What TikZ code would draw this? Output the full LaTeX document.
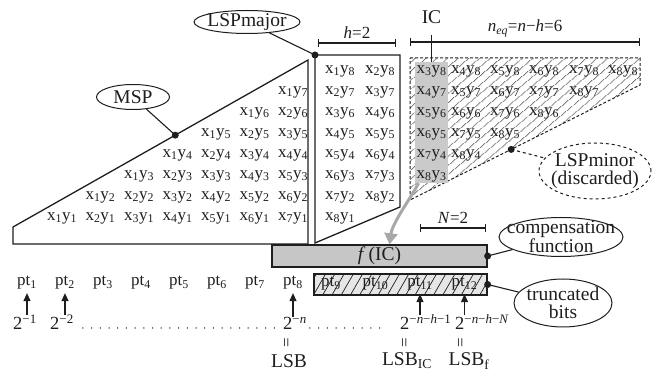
\documentclass[tikz,border=0pt]{standalone}
\usepackage{fontspec}
\setmainfont{Liberation Serif}
\usepackage{tikz}
\usetikzlibrary{arrows.meta, positioning, calc, shapes.geometric, patterns.meta}
\definecolor{Ink}{HTML}{1E1E1E}
\definecolor{ICGray}{HTML}{CACACA}
\definecolor{FGray}{HTML}{C6C6C6}
\definecolor{TGray}{HTML}{E6E6E6}
\definecolor{FlowGray}{HTML}{A8A8A8}
\newcommand{\lblfont}{\fontsize{19.5}{17}\selectfont}
\newcommand{\gridfont}{\fontsize{17}{19}\selectfont}
\newcommand{\powfont}{\fontsize{18.5}{20}\selectfont}
\newcommand{\xy}[2]{x\textsubscript{#1}y\textsubscript{#2}}
\def\colxs{{62,100.5,139,177.5,216,254.5,293,340,380,431.5,466,505,544,584,623}}
\tikzset{
  note/.style={ellipse, draw=Ink, line width=1pt, inner sep=-20pt, font=\lblfont, align=center},
  part/.style={draw=Ink, line width=1.3pt, line join=miter},
  link/.style={draw=Ink, line width=1.1pt},
  dimline/.style={{Bar[width=8pt]}-{Bar[width=8pt]}, line width=1.1pt, Ink},
  uparrow/.style={-{Triangle[width=7pt,length=8pt]}, line width=1.1pt, Ink},
  dotline/.style={line width=1.5pt, line cap=round, dash pattern=on 0pt off 8.7pt, Ink},
  power/.style={anchor=base west, inner sep=0pt, font=\powfont},
  flow/.style={-{Triangle[width=13pt,length=11pt]}, line width=3pt, FlowGray},
  equals/.style={rotate=90, inner sep=0pt, font=\fontsize{17}{17}\selectfont},
}

\begin{document}
\begin{tikzpicture}[x=1pt, y=-1pt, font=\gridfont, text=Ink]
  \useasboundingbox (0,0) rectangle (654,374);
  % the three parts of the partial product matrix
  \coordinate (msp-tl) at (13,227);
  \coordinate (msp-tr) at (308,60);
  \coordinate (maj-tl) at (315,55);
  \coordinate (min-bl) at (410,200);
  \coordinate (min-tr) at (640,85);
  \draw[part] (13,244) -- (msp-tl) -- (msp-tr) -- (308,244) -- cycle;
  \draw[part] (maj-tl) -- (400,55) -- (400,207) -- (315,243) -- cycle;
  \draw[part, line width=1pt, densely dashed] (410,58) -- (640,58) -- (min-tr) -- (min-bl) -- cycle;
  \node[fill=ICGray, minimum width=33, minimum height=121, inner sep=0pt] (icbox) at (431.5,122.5) {};

  \foreach \k in {1,...,8} {
    \foreach \i in {1,...,8} {
      \pgfmathtruncatemacro{\col}{\i+\k-1}
      \pgfmathsetmacro{\cx}{\colxs[\col-1]}
      \node (xy-\i-\k) at (\cx, 239-21*\k) {\xy{\i}{\k}};
    }
  }
  \fill[pattern={Lines[angle=40, distance=6.5pt, line width=0.7pt]}, pattern color=Ink, even odd rule]
    (410,58) -- (640,58) -- (min-tr) -- (min-bl) -- cycle
    (icbox.south west) rectangle (icbox.north east);

  % labels on top
  \node[font=\lblfont] (ic) at (431.5,17) {IC};
  \draw[link, shorten <=8pt] (ic.south) -- (icbox.north);
  \coordinate (h-l) at (318,43);
  \coordinate (h-r) at (396,43);
  \draw[dimline] (h-l) -- (h-r) node[midway, above=1pt] {\textit{h}=2};
  \coordinate (neq-l) at (410,42);
  \coordinate (neq-r) at (640,42);
  \draw[dimline] (neq-l) -- (neq-r)
    node[midway, above=1pt] {\textit{n}\textsubscript{\textit{eq}}=\textit{n}−\textit{h}=6};

  % callouts
  \coordinate (msp-dot) at ($(msp-tl)!0.55!(msp-tr)$);
  \coordinate (min-dot) at ($(min-bl)!0.44!(min-tr)$);
  \node[note, minimum width=73, minimum height=25] (msp) at (133,97) {MSP};
  \node[note, minimum width=106, minimum height=23] (lspmajor) at (247,22) {LSPmajor};
  \node[note, dashed, minimum width=112, minimum height=56, font=\fontsize{19.5}{18}\selectfont]
    (lspminor) at (595,171) {LSPminor\\(discarded)};
  \draw[link] (msp) -- (msp-dot);
  \draw[link] (lspmajor) -- (maj-tl);
  \draw[link, dashed] (min-dot) -- (lspminor);
  \fill[Ink] (msp-dot) circle (3.5pt);
  \fill[Ink] (maj-tl) circle (3.5pt);
  \fill[Ink] (min-dot) circle (3.5pt);

  % compensation function and truncated bits
  \node[part, fill=FGray, minimum width=215, minimum height=22, inner sep=0pt, font=\lblfont]
    (fic) at (379.5,256) {\textit{f}\,(IC)};
  \draw[flow] ([xshift=-13pt]icbox.south) .. controls +(-7,14) and +(3,-22) .. ([xshift=10pt]fic.north);
  \coordinate (nn-l) at (420,228);
  \coordinate (nn-r) at (486,228);
  \draw[dimline] (nn-l) -- (nn-r) node[midway, above=1pt] {\textit{N}=2};
  \node[part, fill=TGray, minimum width=173, minimum height=21, inner sep=0pt]
    (trunc) at (400.5,284.5) {};
  \foreach \j in {9,...,12}
    \node (pt\j) at (331+44.5*\j-400.5, 284) {pt\textsubscript{\j}};
  \fill[pattern={Lines[angle=60, distance=8pt, line width=0.7pt]}, pattern color=Ink]
    (trunc.south west) rectangle (trunc.north east);
  \node[note, minimum width=124, minimum height=39] (comp) at (561,237)
    {compensation\\function};
  \node[note, minimum width=98, minimum height=48, font=\fontsize{19.5}{18}\selectfont]
    (truncnote) at (563,303) {truncated\\bits};
  \draw[link] (fic.east) -- (comp);
  \draw[link] (trunc.east) -- (truncnote);
  \fill[Ink] (fic.east) circle (3.5pt);
  \fill[Ink] (trunc.east) circle (3.5pt);

  % bit weights
  \foreach \j in {1,...,8}
    \node (pt\j) at (27+38*\j-38, 283) {pt\textsubscript{\j}};
  \node[power] (b1) at (13,330) {2\textsuperscript{−1}};
  \node[power] (b2) at (50,330) {2\textsuperscript{−2}};
  \node[power] (bn) at (283,330) {2\textsuperscript{−\textit{n}}};
  \node[power] (bic) at (400,330) {2\textsuperscript{−\textit{n}−\textit{h}−1}};
  \node[power] (bf) at (455,330) {2\textsuperscript{−\textit{n}−\textit{h}−\textit{N}}};
  \foreach \p/\b in {pt1/b1, pt2/b2, pt8/bn, pt11/bic, pt12/bf}
    \draw[uparrow] (\b.north -| \p.south) -- (\p.south);
  \draw[dotline, shorten <=9pt, shorten >=5pt] ([yshift=2pt]b2.base east) -- ([yshift=2pt]bn.base west);
  \draw[dotline, shorten <=3pt, shorten >=15pt] ([yshift=2pt]bn.base east) -- ([yshift=2pt]bic.base west);
  \node[equals] (eq-n) at (288,343) {=};
  \node[equals] (eq-ic) at (406,343) {=};
  \node[equals] (eq-f) at (462,343) {=};
  \node[font=\lblfont] (lsb) at (289,361) {LSB};
  \node[font=\lblfont] (lsb-ic) at (407,361) {LSB\textsubscript{IC}};
  \node[font=\lblfont] (lsb-f) at (469,361) {LSB\textsubscript{f}};
\end{tikzpicture}
\end{document}
